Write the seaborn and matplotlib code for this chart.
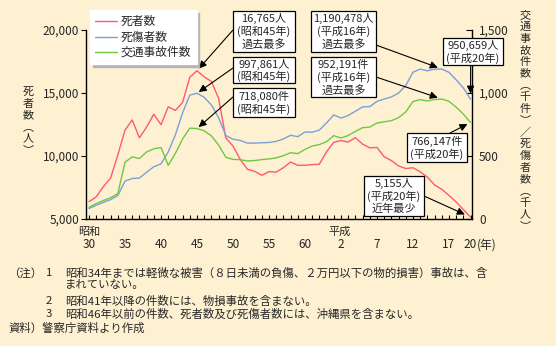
import numpy as np
import pandas as pd
import matplotlib
matplotlib.use("Agg")
import matplotlib.pyplot as plt
import seaborn as sns
from matplotlib.patches import Rectangle
from matplotlib.lines import Line2D

# ---------------- data ----------------
years = list(range(1955, 2009))
deaths = [6379, 6751, 7575, 8248, 10079, 12055, 12865, 11445, 12301, 13318,
          12484, 13904, 13618, 14256, 16257, 16765, 16278, 15918, 14574, 11432,
          10792, 9734, 8945, 8783, 8466, 8760, 8719, 9073, 9520, 9262,
          9261, 9317, 9347, 10344, 11086, 11227, 11109, 11452, 10942, 10649,
          10679, 9942, 9640, 9211, 9006, 9066, 8747, 8326, 7702, 7358,
          6871, 6352, 5744, 5155]
casualties = [82880, 108823, 132105, 153680, 186030, 301211, 321562, 325258, 371390, 414435,
              438150, 531679, 668995, 842327, 983257, 997861, 965967, 905116, 804522, 662852,
              633259, 623691, 602156, 602899, 604748, 607479, 616065, 635265, 664342, 653583,
              690607, 688895, 705693, 763189, 825918, 801522, 821354, 855455, 889575, 892372,
              933356, 952145, 968565, 999886, 1059405, 1164773, 1189786, 1176355, 1189383, 1190478,
              1163984, 1104551, 1040189, 950659]
accidents = [93981, 122691, 146833, 168799, 201292, 449917, 493693, 479825, 531966, 557183,
             567286, 425944, 521481, 635056, 720880, 718080, 700290, 659283, 586713, 490452,
             472938, 471041, 460649, 464037, 471573, 476677, 485578, 502261, 526362, 518642,
             552788, 579190, 590723, 614481, 661363, 643097, 662388, 695345, 724675, 729461,
             761794, 771085, 780401, 803882, 850363, 931934, 947253, 936950, 948281, 952191,
             934346, 887267, 832454, 766147]

series_names = ["死者数", "死傷者数", "交通事故件数"]
tick_years = [1955, 1960, 1965, 1970, 1975, 1980, 1985, 1990, 1995, 2000, 2005, 2008]
tick_labels = ["30", "35", "40", "45", "50", "55", "60", "2", "7", "12", "17", "20"]
left_ticks = [5000, 10000, 15000, 20000]
right_ticks = [0, 500, 1000, 1500]

# ---------------- style ----------------
sns.set_theme(style="white")
plt.rcParams['font.family'] = ['Noto Sans CJK JP', 'DejaVu Sans']

BG = '#FEF1D2'
RED = '#FF5872'
BLUE = '#7CA0D6'
GREEN = '#70C842'
FS = 8.5
BFS = 8.0

W, H = 556, 346
fig = plt.figure(figsize=(W / 100, H / 100), dpi=100)
fig.patch.set_facecolor(BG)

def fx(px):
    return px / W

def fy(py):
    return 1 - py / H

ax = fig.add_axes([fx(86), fy(219), (472 - 86) / W, (219 - 30) / H])
ax.set_facecolor(BG)
ax2 = ax.twinx()

df = pd.DataFrame({
    "year": years,
    "deaths": deaths,
    "casualties": np.array(casualties) / 1000,
    "accidents": np.array(accidents) / 1000,
})

sns.lineplot(data=df, x="year", y="deaths", ax=ax, color=RED, lw=1.0)
sns.lineplot(data=df, x="year", y="casualties", ax=ax2, color=BLUE, lw=1.0)
sns.lineplot(data=df, x="year", y="accidents", ax=ax2, color=GREEN, lw=1.0)

ax.set_xlim(1954.58, 2008.2)
ax.set_ylim(5000, 20000)
ax2.set_ylim(0, 1500)
for a in (ax, ax2):
    a.set_xlabel("")
    a.set_ylabel("")

for s in ("top", "right"):
    ax.spines[s].set_visible(False)
for s in ("top", "left", "bottom"):
    ax2.spines[s].set_visible(False)
ax.spines["left"].set_color("black")
ax.spines["bottom"].set_color("black")
ax2.spines["right"].set_color("black")
for sp in (ax.spines["left"], ax.spines["bottom"], ax2.spines["right"]):
    sp.set_linewidth(1.0)

ax.set_xticks(tick_years)
ax.set_xticklabels(tick_labels)
ax.set_xticks(years, minor=True)
ax.tick_params(axis='x', which='both', direction='in', length=3.2, width=0.8,
               bottom=True, color='black', pad=14, labelsize=FS)

ax.set_yticks(left_ticks)
ax.set_yticklabels([f"{v:,}" for v in left_ticks])
ax.tick_params(axis='y', direction='out', length=3.5, width=0.8, left=True,
               color='black', pad=1.5, labelsize=FS)

ax2.set_yticks(right_ticks)
ax2.set_yticklabels([f"{v:,}" for v in right_ticks])
ax2.tick_params(axis='y', direction='in', length=4, width=0.8, right=True,
                color='black', pad=5, labelsize=FS)

# ---------------- legend ----------------
handles = [Line2D([], [], color=c, lw=1.0) for c in (RED, BLUE, GREEN)]
leg = ax2.legend(handles, series_names, loc='upper left',
                 bbox_to_anchor=(fx(90), fy(10)), bbox_transform=fig.transFigure,
                 frameon=True, fancybox=False, shadow={'color': '#b4b4b4', 'alpha': 1},
                 framealpha=1, facecolor='white', edgecolor='white', fontsize=FS,
                 handlelength=1.8, handletextpad=0.35, labelspacing=0.2,
                 borderpad=0.45, borderaxespad=0)
leg.set_zorder(10)

# ---------------- annotations ----------------
def box(x0, y0, x1, y1, lines, ys):
    fig.add_artist(Rectangle((fx(x0), fy(y1)), (x1 - x0) / W, (y1 - y0) / H,
                             transform=fig.transFigure, fc='white', ec='black',
                             lw=0.9, zorder=5))
    for t, yy in zip(lines, ys):
        fig.text(fx((x0 + x1) / 2), fy(yy), t, ha='center', va='center',
                 fontsize=BFS, zorder=6)

def arrow(target_ax, xd, yd, sx, sy, shrink):
    target_ax.annotate('', xy=(xd, yd), xycoords='data',
                       xytext=(sx, H - sy), textcoords='figure pixels',
                       arrowprops=dict(arrowstyle='-|>,head_length=0.45,head_width=0.22',
                                       mutation_scale=10, lw=0.8, color='black',
                                       shrinkA=0, shrinkB=shrink),
                       annotation_clip=False, zorder=7)

i70 = years.index(1970)
i04 = years.index(2004)
i08 = years.index(2008)

box(233, 11, 295, 52, ["16,765人", "(昭和45年)", "過去最多"], [18.5, 31.5, 44.5])
arrow(ax, years[i70], deaths[i70], 233, 30, 2)
box(233, 57, 295, 83, ["997,861人", "(昭和45年)"], [64, 76.5])
arrow(ax2, years[i70], casualties[i70] / 1000, 233, 68, 1.5)
box(233, 88, 295, 117, ["718,080件", "(昭和45年)"], [96, 109])
arrow(ax2, years[i70], accidents[i70] / 1000, 233, 97, 1.5)

box(311, 11, 376, 52, ["1,190,478人", "(平成16年)", "過去最多"], [18.5, 31.5, 44.5])
arrow(ax2, years[i04], casualties[i04] / 1000, 376, 45, 3)
box(311, 57, 376, 97, ["952,191件", "(平成16年)", "過去最多"], [64, 77, 90])
arrow(ax2, years[i04], accidents[i04] / 1000, 376, 77, 3)

box(443, 38, 503, 65, ["950,659人", "(平成20年)"], [45, 58])
arrow(ax2, years[i08], casualties[i08] / 1000, 470.6, 65, 4)
box(407, 133, 467, 162, ["766,147件", "(平成20年)"], [141, 154])
arrow(ax2, years[i08], accidents[i08] / 1000, 450, 133, 2.5)
box(364, 176, 424, 216, ["5,155人", "(平成20年)", "近年最少"], [183, 196, 209])
arrow(ax, years[i08], deaths[i08], 424, 196, 4.5)

# ---------------- axis labels (vertical, one text each) ----------------
left_label = "\n".join(list("死者数︵人︶"))
fig.text(fx(28), fy(121), left_label, ha='center', va='center', fontsize=BFS,
         linespacing=1.2)

right_label = "\n".join(list("交通事故件数︵千件︶／死傷者数︵千人︶"))
fig.text(fx(525), fy(120.5), right_label, ha='center', va='center', fontsize=BFS,
         linespacing=1.2)

fig.text(fx(89), fy(232), "昭和", ha='center', va='center', fontsize=BFS)
fig.text(fx(340), fy(232), "平成", ha='center', va='center', fontsize=BFS)
fig.text(fx(477), fy(245), "(年)", ha='left', va='center', fontsize=FS)

# ---------------- notes ----------------
NS = 8.2
fig.text(fx(8), fy(273), "（注）", ha='left', va='center', fontsize=NS)
fig.text(fx(46), fy(273), "1", ha='left', va='center', fontsize=NS)
fig.text(fx(65), fy(273), "昭和34年までは軽微な被害（８日未満の負傷、２万円以下の物的損害）事故は、含",
         ha='left', va='center', fontsize=NS)
fig.text(fx(65), fy(285), "まれていない。", ha='left', va='center', fontsize=NS)
fig.text(fx(46), fy(301), "2", ha='left', va='center', fontsize=NS)
fig.text(fx(65), fy(301), "昭和41年以降の件数には、物損事故を含まない。", ha='left', va='center', fontsize=NS)
fig.text(fx(46), fy(314), "3", ha='left', va='center', fontsize=NS)
fig.text(fx(65), fy(314), "昭和46年以前の件数、死者数及び死傷者数には、沖縄県を含まない。",
         ha='left', va='center', fontsize=NS)
fig.text(fx(8), fy(328), "資料）警察庁資料より作成", ha='left', va='center', fontsize=NS)

fig.savefig("out.png", dpi=100, facecolor=BG)
